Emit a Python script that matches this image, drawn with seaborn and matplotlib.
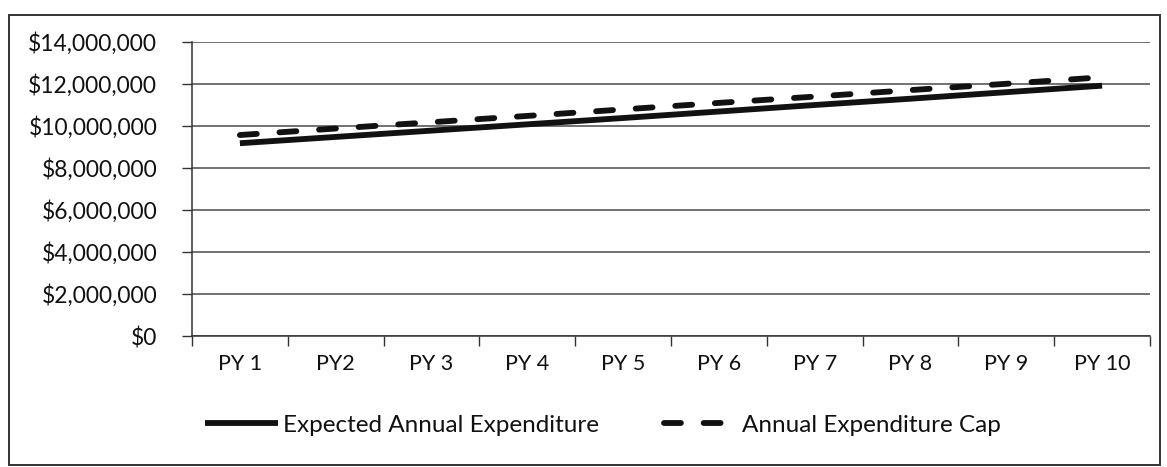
import pandas as pd
import matplotlib.pyplot as plt
import seaborn as sns
from matplotlib.patches import Rectangle
from matplotlib.ticker import FuncFormatter, FixedLocator

# -----------------------------
# Data
# -----------------------------
years = ["PY 1", "PY2", "PY 3", "PY 4", "PY 5", "PY 6", "PY 7", "PY 8", "PY 9", "PY 10"]
expected = [9180000, 9480000, 9780000, 10080000, 10380000,
            10690000, 11000000, 11300000, 11610000, 11920000]
cap = [9570000, 9880000, 10180000, 10480000, 10790000,
       11100000, 11400000, 11710000, 12010000, 12320000]

label_exp = "Expected Annual Expenditure"
label_cap = "Annual Expenditure Cap"

df = pd.concat([
    pd.DataFrame({"year": years, "value": expected, "series": label_exp}),
    pd.DataFrame({"year": years, "value": cap, "series": label_cap}),
])

# -----------------------------
# Style
# -----------------------------
sns.set_theme(style="white")
plt.rcParams["font.family"] = ["Lato", "DejaVu Sans"]
ink = "#111111"

fig = plt.figure(figsize=(11.67, 4.67), dpi=100)
ax = fig.add_axes([192 / 1167, 1 - 336 / 467, (1150 - 192) / 1167, (336 - 42) / 467])

sns.lineplot(data=df, x="year", y="value", hue="series", style="series",
             palette={label_exp: ink, label_cap: ink},
             dashes={label_exp: "", label_cap: (2.9, 3.9)},
             linewidth=4.2, sort=False, ax=ax)
for line in ax.lines:
    line.set_dash_capstyle("round")
    line.set_solid_capstyle("butt")

# axes limits / ticks
ax.set_xlim(-0.5, len(years) - 0.5)
ax.set_ylim(0, 14000000)
ax.set_yticks(range(0, 14000001, 2000000))
ax.yaxis.set_major_formatter(FuncFormatter(lambda v, _: f"${v:,.0f}"))
ax.yaxis.grid(True, color="#4a4a4a", linewidth=1.1)
ax.set_axisbelow(True)

# category labels between tick marks (Excel style)
ax.xaxis.set_major_locator(FixedLocator([i - 0.5 for i in range(len(years) + 1)]))
ax.xaxis.set_minor_locator(FixedLocator(list(range(len(years)))))
ax.set_xticklabels([], minor=False)
ax.set_xticklabels(years, minor=True)
ax.tick_params(axis="x", which="major", direction="out", length=7, width=1, color="#333",
               bottom=True)
ax.tick_params(axis="x", which="minor", length=0, pad=13, labelsize=15.5, colors=ink)
ax.tick_params(axis="y", direction="out", length=7, width=1, color="#333", left=True,
               pad=18, labelsize=16.4, labelcolor=ink)

for side in ["top", "right"]:
    ax.spines[side].set_visible(False)
for side in ["left", "bottom"]:
    ax.spines[side].set_color("#333")
    ax.spines[side].set_linewidth(1.1)

ax.set_xlabel("")
ax.set_ylabel("")

# legend under the plot
handles, labels = ax.get_legend_handles_labels()
for h in handles:
    h.set_dash_capstyle("round")
ax.get_legend().remove()
fig.legend(handles, labels, loc="center left", bbox_to_anchor=(183 / 1167, 1 - 425 / 467),
           ncol=2, frameon=False, fontsize=17.5, handlelength=3.0, handletextpad=0.2,
           columnspacing=2.7, labelcolor=ink)

# chart border
fig.patches.append(Rectangle((0.008, 0.004), 0.986, 0.964, transform=fig.transFigure,
                             fill=False, edgecolor="#333", linewidth=1.4))

plt.savefig("out.png", dpi=100)
